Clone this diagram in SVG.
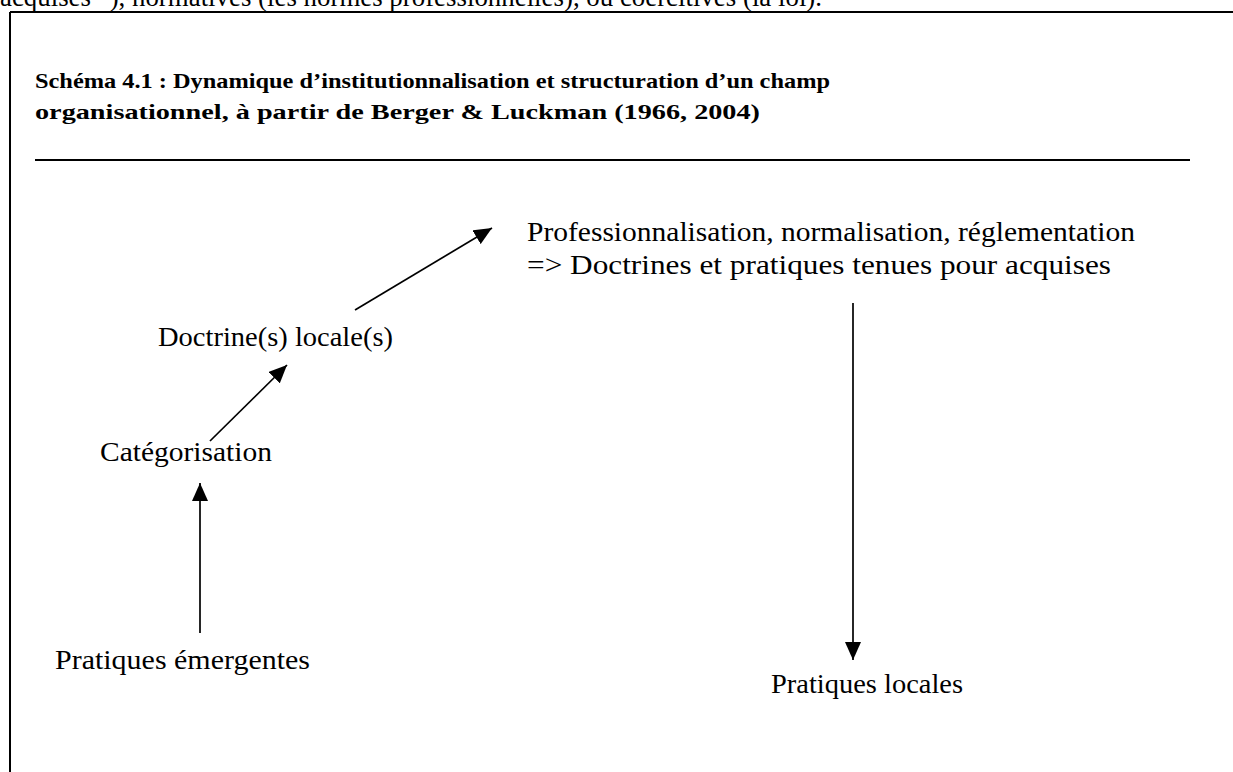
<svg xmlns="http://www.w3.org/2000/svg" width="1233" height="772" viewBox="0 0 1233 772">
<defs>
<style>
.t{font-family:"Liberation Serif","Times New Roman",serif;font-size:28px;fill:#000}
.b{font-family:"Liberation Serif","Times New Roman",serif;font-size:22px;font-weight:bold;fill:#000}
.fr{stroke:#000;stroke-width:2;fill:none}
.c{stroke:#000;stroke-width:1.7;fill:none;marker-end:url(#ah)}
</style>
<marker id="ah" markerUnits="userSpaceOnUse" markerWidth="20" markerHeight="16" viewBox="0 0 20 16" refX="18" refY="8" orient="auto">
<path d="M0,0 L18,8 L0,16 Z" fill="#000"/>
</marker>
</defs>
<rect width="1233" height="772" fill="#fff"/>
<text class="t" x="0" y="6" textLength="822" lengthAdjust="spacingAndGlyphs">acquises ”), normatives (les normes professionnelles), ou coercitives (la loi).</text>
<g id="frame">
<line class="fr" x1="10" y1="12" x2="1233" y2="12"/>
<line class="fr" x1="10" y1="12" x2="10" y2="772"/>
<line class="fr" x1="35" y1="160" x2="1190" y2="160"/>
</g>
<g id="title">
<text class="b" x="35" y="88" textLength="795" lengthAdjust="spacingAndGlyphs">Schéma 4.1 : Dynamique d’institutionnalisation et structuration d’un champ</text>
<text class="b" x="35" y="119" textLength="725" lengthAdjust="spacingAndGlyphs">organisationnel, à partir de Berger &amp; Luckman (1966, 2004)</text>
</g>
<g id="n-professionnalisation">
<text class="t" x="527" y="241" textLength="608" lengthAdjust="spacingAndGlyphs">Professionnalisation, normalisation, réglementation</text>
<text class="t" x="527" y="274" textLength="584" lengthAdjust="spacingAndGlyphs">=&gt; Doctrines et pratiques tenues pour acquises</text>
</g>
<g id="n-doctrines">
<text class="t" x="158" y="346" textLength="235" lengthAdjust="spacingAndGlyphs">Doctrine(s) locale(s)</text>
</g>
<g id="n-categorisation">
<text class="t" x="100" y="461" textLength="172" lengthAdjust="spacingAndGlyphs">Catégorisation</text>
</g>
<g id="n-pratiques-emergentes">
<text class="t" x="55" y="669" textLength="255" lengthAdjust="spacingAndGlyphs">Pratiques émergentes</text>
</g>
<g id="n-pratiques-locales">
<text class="t" x="771" y="693" textLength="192" lengthAdjust="spacingAndGlyphs">Pratiques locales</text>
</g>
<g id="connectors">
<line class="c" x1="200" y1="633" x2="200" y2="483"/>
<line class="c" x1="210" y1="441" x2="287" y2="365"/>
<line class="c" x1="355" y1="310" x2="492" y2="228"/>
<line class="c" x1="853" y1="303" x2="853" y2="660"/>
</g>
</svg>
